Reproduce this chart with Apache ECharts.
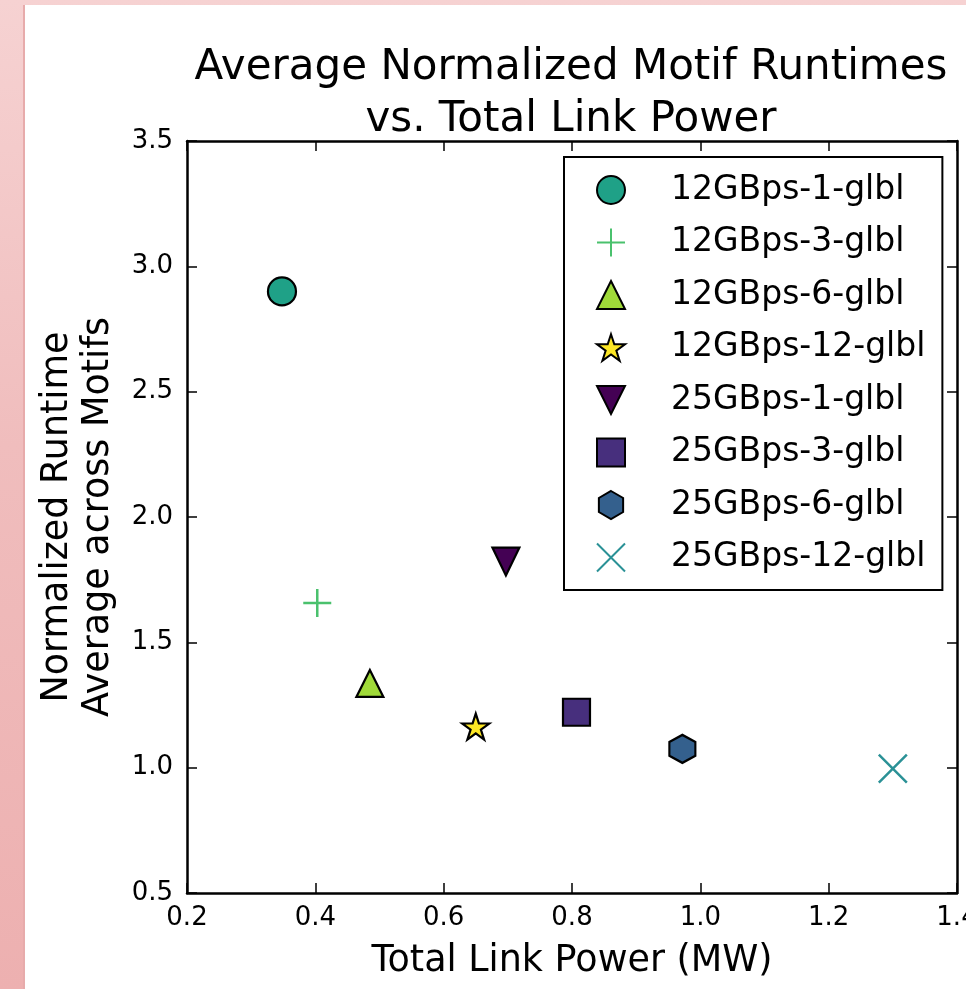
<!DOCTYPE html>
<html>
<head>
<meta charset="utf-8">
<script src="https://cdn.jsdelivr.net/npm/echarts@6/dist/echarts.min.js"></script>
<style>
  html, body { margin: 0; padding: 0; width: 966px; height: 989px; overflow: hidden; }
  #frame { position: absolute; left: 0; top: 0; width: 966px; height: 989px;
           background: linear-gradient(to bottom, #f6d2d2 0%, #f0bdbd 45%, #edb0b0 100%); }
  #paper { position: absolute; left: 25px; top: 5px; width: 941px; height: 984px; background: #ffffff;
           box-shadow: -2px 0 0 #e7abab; }
  #main { position: absolute; left: 0; top: 0; width: 966px; height: 989px; }
</style>
</head>
<body>
<div id="frame"></div>
<div id="paper"></div>
<div id="main"></div>
<script>
// ---- data ----
const seriesNames = ['12GBps-1-glbl', '12GBps-3-glbl', '12GBps-6-glbl', '12GBps-12-glbl',
                     '25GBps-1-glbl', '25GBps-3-glbl', '25GBps-6-glbl', '25GBps-12-glbl'];
const totalLinkPowerMW = [0.348, 0.403, 0.485, 0.650, 0.697, 0.807, 0.972, 1.300];
const normalizedRuntime = [2.90, 1.657, 1.336, 1.164, 1.822, 1.221, 1.075, 0.996];
const xTicks = [0.2, 0.4, 0.6, 0.8, 1.0, 1.2, 1.4];
const yTicks = [0.5, 1.0, 1.5, 2.0, 2.5, 3.0, 3.5];

// ---- styles ----
const FONT = 'DejaVu Sans';
const colors = ['#1fa187', '#4ac16d', '#a0da39', '#fde725', '#440154', '#472f7d', '#34608d', '#2a9196'];
const STAR = 'path://M0,-1L0.2245,-0.309L0.951,-0.309L0.363,0.118L0.588,0.809L0,0.382L-0.588,0.809L-0.363,0.118L-0.951,-0.309L-0.2245,-0.309Z';
const symbols = [
  'circle',
  'path://M0,-1L0,1M-1,0L1,0',
  'triangle',
  STAR,
  'path://M-1,-1L1,-1L0,1Z',
  'rect',
  'path://M0,-1L0.866,-0.5L0.866,0.5L0,1L-0.866,0.5L-0.866,-0.5Z',
  'path://M-1,-1L1,1M-1,1L1,-1'
];
const sizes = [28, 28, 27, [27, 26], [27, 28], 27, [26, 28], 28];
const strokeOnly = [false, true, false, false, false, false, false, true];

const series = seriesNames.map((name, i) => ({
  name: name,
  type: 'scatter',
  xAxisIndex: 0,
  yAxisIndex: 0,
  symbol: symbols[i],
  symbolSize: sizes[i],
  data: [[totalLinkPowerMW[i], normalizedRuntime[i]]],
  itemStyle: strokeOnly[i]
    ? { color: 'rgba(0,0,0,0)', borderColor: colors[i], borderWidth: 2.5, opacity: 1 }
    : { color: colors[i], borderColor: '#000000', borderWidth: 2.2, opacity: 1 },
  emphasis: { disabled: true },
  z: 3
}));

const axisLine = { show: true, onZero: false, lineStyle: { color: '#000000', width: 2.5 } };
const axisTick = { show: true, inside: true, length: 10, lineStyle: { color: '#000000', width: 1.5 } };
const fmt = v => Number(v).toFixed(1);

const chart = echarts.init(document.getElementById('main'), null, { renderer: 'canvas' });
chart.setOption({
  animation: false,
  backgroundColor: 'transparent',
  textStyle: { fontFamily: FONT },
  graphic: [{
    type: 'text',
    x: 571,
    y: 42,
    style: {
      text: 'Average Normalized Motif Runtimes\nvs. Total Link Power',
      font: '42px "DejaVu Sans"',
      fill: '#000000',
      align: 'center',
      verticalAlign: 'top',
      lineHeight: 52
    }
  }],
  grid: { left: 187, top: 141, right: 9, bottom: 96, containLabel: false, outerBoundsMode: 'none' },
  legend: {
    orient: 'vertical',
    left: 564,
    top: 157,
    itemWidth: 28,
    itemHeight: 28,
    itemGap: 19.5,
    padding: [16.5, 17, 16, 32],
    borderColor: '#000000',
    borderWidth: 2,
    borderRadius: 0,
    backgroundColor: '#ffffff',
    selectedMode: false,
    textStyle: { fontFamily: FONT, fontSize: 33, color: '#000000', padding: [0, 0, 0, 41] },
    data: seriesNames
  },
  xAxis: [{
    type: 'value', position: 'bottom',
    min: xTicks[0], max: xTicks[xTicks.length - 1], interval: 0.2,
    axisLine: axisLine, axisTick: axisTick, splitLine: { show: false },
    axisLabel: { formatter: fmt, fontFamily: FONT, fontSize: 26, color: '#000000', margin: 12 },
    name: 'Total Link Power (MW)', nameLocation: 'middle', nameGap: 50,
    nameTextStyle: { fontFamily: FONT, fontSize: 36.5, color: '#000000' }
  }, {
    type: 'value', position: 'top',
    min: xTicks[0], max: xTicks[xTicks.length - 1], interval: 0.2,
    axisLine: axisLine, axisTick: axisTick, splitLine: { show: false },
    axisLabel: { show: false }
  }],
  yAxis: [{
    type: 'value', position: 'left',
    min: yTicks[0], max: yTicks[yTicks.length - 1], interval: 0.5,
    axisLine: axisLine, axisTick: axisTick, splitLine: { show: false },
    axisLabel: { formatter: fmt, fontFamily: FONT, fontSize: 26, color: '#000000', margin: 14 },
    name: 'Normalized Runtime\nAverage across Motifs', nameLocation: 'middle', nameGap: 68,
    nameTextStyle: { fontFamily: FONT, fontSize: 36.5, color: '#000000', lineHeight: 41 }
  }, {
    type: 'value', position: 'right',
    min: yTicks[0], max: yTicks[yTicks.length - 1], interval: 0.5,
    axisLine: axisLine, axisTick: axisTick, splitLine: { show: false },
    axisLabel: { show: false }
  }],
  series: series
});
</script>
</body>
</html>
